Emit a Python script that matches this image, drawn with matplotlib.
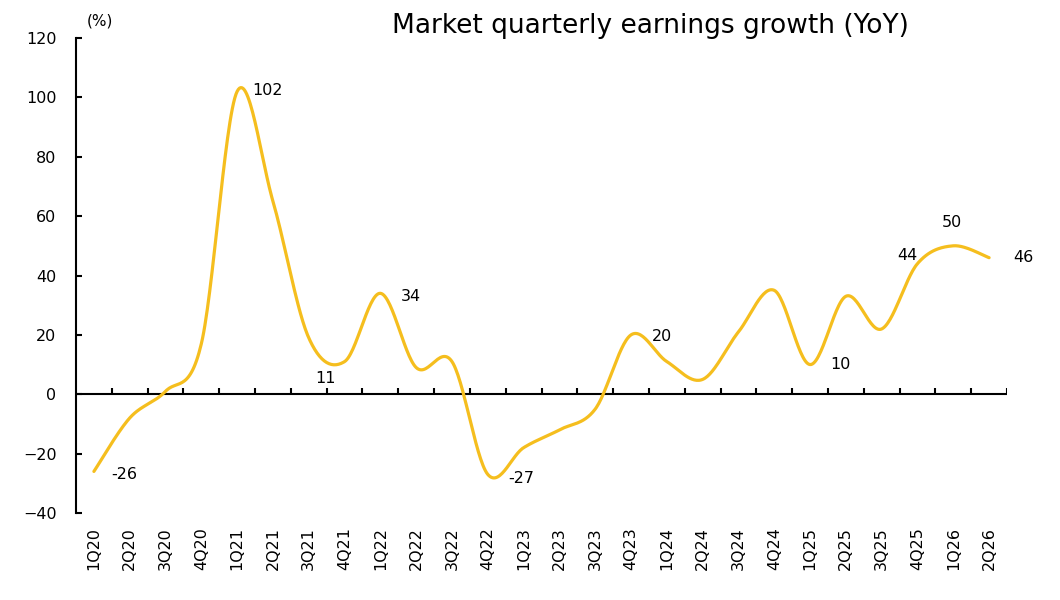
import numpy as np
import matplotlib
matplotlib.use("Agg")
import matplotlib.pyplot as plt

quarters = ["1Q20", "2Q20", "3Q20", "4Q20", "1Q21", "2Q21", "3Q21", "4Q21",
            "1Q22", "2Q22", "3Q22", "4Q22", "1Q23", "2Q23", "3Q23", "4Q23",
            "1Q24", "2Q24", "3Q24", "4Q24", "1Q25", "2Q25", "3Q25", "4Q25",
            "1Q26", "2Q26"]
growth = [-26, -8, 1, 17, 102, 65, 19, 11,
          34, 9, 11, -27, -18, -12, -5, 20,
          11, 5, 21, 35, 10, 33, 22, 44,
          50, 46]
labelled = {0: "-26", 4: "102", 7: "11", 8: "34", 11: "-27", 15: "20",
            20: "10", 23: "44", 24: "50", 25: "46"}
# label offsets in points (dx, dy)
label_offsets = {0: (22, -2), 4: (22, 1), 7: (-14, -12), 8: (22, -2),
                 11: (24, -3), 15: (22, -1), 20: (22, 0), 23: (-7, 6),
                 24: (-1, 17), 25: (25, 0)}

plt.rcParams['font.family'] = ['DejaVu Sans']

def catmull_bezier(x, y, n=30):
    x = np.asarray(x, float); y = np.asarray(y, float)
    px, py = [], []
    N = len(x)
    for i in range(N - 1):
        x0, y0 = (x[i-1], y[i-1]) if i > 0 else (x[i], y[i])
        x1, y1 = x[i], y[i]
        x2, y2 = x[i+1], y[i+1]
        x3, y3 = (x[i+2], y[i+2]) if i + 2 < N else (x[i+1], y[i+1])
        c1x, c1y = x1 + (x2 - x0) / 6, y1 + (y2 - y0) / 6
        c2x, c2y = x2 - (x3 - x1) / 6, y2 - (y3 - y1) / 6
        t = np.linspace(0, 1, n, endpoint=(i == N - 2))
        b0 = (1-t)**3; b1 = 3*(1-t)**2*t; b2 = 3*(1-t)*t**2; b3 = t**3
        px.append(b0*x1 + b1*c1x + b2*c2x + b3*x2)
        py.append(b0*y1 + b1*c1y + b2*c2y + b3*y2)
    return np.concatenate(px), np.concatenate(py)

fig = plt.figure(figsize=(10.6, 6.0), dpi=100)
ax = fig.add_axes([76/1060, 1-513/600, (1007-76)/1060, (513-38)/600])

xs = np.arange(len(quarters))
sx, sy = catmull_bezier(xs, growth)
ax.plot(sx, sy, color="#F5BE1E", lw=2.3, solid_capstyle="round", zorder=3)

for i, txt in labelled.items():
    dx, dy = label_offsets[i]
    ax.annotate(txt, (xs[i], growth[i]), xytext=(dx, dy), textcoords="offset points",
                ha="center", va="center", fontsize=11.5, color="black")

ax.set_xlim(-0.5, len(quarters) - 0.5)
ax.set_ylim(-40, 120)
ax.set_yticks(np.arange(-40, 121, 20))
ax.set_xticks(xs)
ax.set_xticklabels(quarters, rotation=90, fontsize=11.5)
ax.tick_params(axis='x', length=0, pad=10)
ax.tick_params(axis='y', direction='in', length=4, width=1.5, labelsize=11.5, pad=14)

for s in ["top", "right", "bottom"]:
    ax.spines[s].set_visible(False)
ax.spines["left"].set_linewidth(1.5)

# x axis line at zero with boundary tick marks
ax.axhline(0, color="black", lw=1.5, zorder=2)
bounds = np.arange(0.5, len(quarters) + 0.5, 1.0)
ax.vlines(bounds, 0, 2, color="black", lw=1.5, zorder=2)

fig.text(650/1060, 1-26/600, "Market quarterly earnings growth (YoY)", ha="center", va="center",
         fontsize=19)
fig.text(100/1060, 1-21/600, "(%)", ha="center", va="center", fontsize=11)

fig.savefig("out.png", dpi=100, facecolor="white")
